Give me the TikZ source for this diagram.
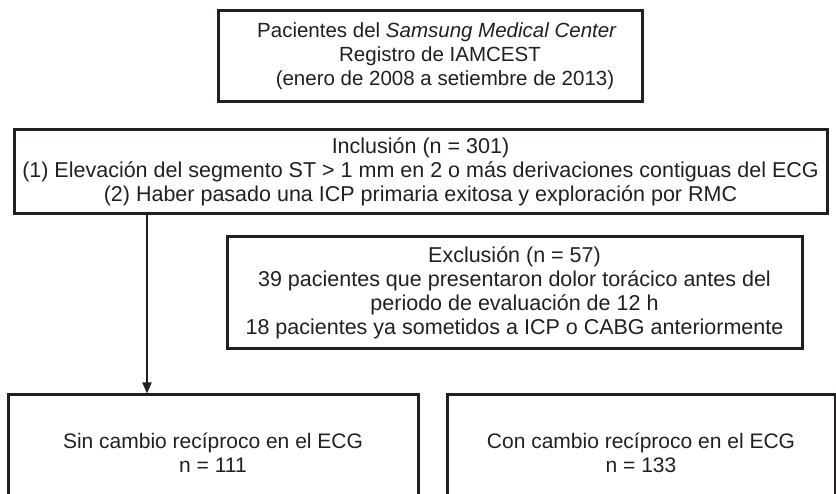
\documentclass[tikz,border=0pt]{standalone}
\usepackage{fontspec}
\setmainfont{Liberation Sans}
\usetikzlibrary{arrows.meta}

\definecolor{tinta}{HTML}{231F20}

\tikzset{
	riquadro/.style={draw=tinta, line width=3pt, align=center, text=tinta,
		font=\fontsize{21.5}{24}\selectfont, inner sep=0pt},
	freccia/.style={draw=tinta, line width=1.8pt, -{Triangle[length=11pt, width=9pt]}}
}

\begin{document}
\begin{tikzpicture}[x=1pt, y=-1pt]
		\useasboundingbox (0, 0) rectangle (836, 494);
		\clip (0, 0) rectangle (836, 494);
		\coordinate (xf) at (147, 0);

		% registro
		\node[riquadro, font=\fontsize{20.5}{24}\selectfont, minimum width=424pt, minimum height=91pt] (registro) at (430, 56.5)
			{\hspace*{14pt}Pacientes del \textit{Samsung Medical Center}\\\hspace*{20pt}Registro de IAMCEST\\\hspace*{30pt}(enero de 2008 a setiembre de 2013)};

		% criteri
		\node[riquadro, minimum width=813pt, minimum height=84pt] (incl) at (420.5, 172)
			{Inclusión (n = 301)\\(1) Elevación del segmento ST > 1 mm en 2 o más derivaciones contiguas del ECG\\(2) Haber pasado una ICP primaria exitosa y exploración por RMC};
		\node[riquadro, minimum width=575pt, minimum height=112pt] (escl) at (514.5, 293)
			{Exclusión (n = 57)\\39 pacientes que presentaron dolor torácico antes del\\periodo de evaluación de 12 h\\18 pacientes ya sometidos a ICP o CABG anteriormente};

		% gruppi
		\node[riquadro, font=\fontsize{21}{24}\selectfont, minimum width=410pt, minimum height=115pt] (sin) at (213, 452.5)
			{Sin cambio recíproco en el ECG\\n = 111};
		\node[riquadro, font=\fontsize{21}{24}\selectfont, minimum width=388pt, minimum height=115pt] (con) at (641, 452.5)
			{Con cambio recíproco en el ECG\\n = 133};

		\draw[freccia] (incl.south -| xf) -- (sin.north -| xf);
	\end{tikzpicture}
\end{document}
